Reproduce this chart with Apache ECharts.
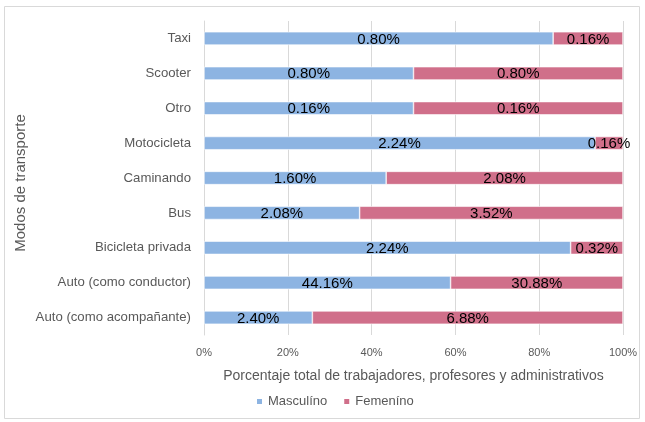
<!DOCTYPE html>
<html>
<head>
<meta charset="utf-8">
<script src="https://cdn.jsdelivr.net/npm/echarts@6/dist/echarts.min.js"></script>
<style>
  html, body { margin: 0; padding: 0; background: #fff; }
  #chart { width: 645px; height: 422px; }
</style>
</head>
<body>
<div id="chart"></div>
<script>
// Transport modes, bottom to top on the category axis
const categories = [
  'Auto (como acompañante)',
  'Auto (como conductor)',
  'Bicicleta privada',
  'Bus',
  'Caminando',
  'Motocicleta',
  'Otro',
  'Scooter',
  'Taxi'
];
// Percent of all staff, by gender
const masculino = [2.40, 44.16, 2.24, 2.08, 1.60, 2.24, 0.16, 0.80, 0.80];
const femenino  = [6.88, 30.88, 0.32, 3.52, 2.08, 0.16, 0.16, 0.80, 0.16];
const xTicks = ['0%', '20%', '40%', '60%', '80%', '100%'];

// Each bar is scaled to 100% of its mode's total
const share = (a, b) => a.map((v, i) => ({ value: v / (v + b[i]) * 100, raw: v }));
const mascShare = share(masculino, femenino);
const femShare = share(femenino, masculino);

const FONT = '"Liberation Sans", "DejaVu Sans", sans-serif';
const chart = echarts.init(document.getElementById('chart'));

const labelCfg = {
  show: true,
  position: 'inside',
  color: '#000',
  fontSize: 15,
  fontFamily: FONT,
  offset: [0, 1],
  formatter: p => p.data.raw.toFixed(2) + '%'
};

chart.setOption({
  animation: false,
  graphic: [{
    type: 'rect',
    shape: { x: 4.5, y: 6.5, width: 635, height: 412 },
    style: { fill: 'none', stroke: '#d9d9d9', lineWidth: 1 },
    silent: true
  }],
  grid: { left: 204, right: 22, top: 21, bottom: 87, containLabel: false },
  legend: {
    bottom: 9,
    left: 250,
    itemWidth: 7,
    itemHeight: 7,
    itemGap: 15,
    icon: 'rect',
    textStyle: { color: '#595959', fontSize: 13, fontFamily: FONT },
    data: ['Masculíno', 'Femeníno']
  },
  xAxis: {
    type: 'value',
    min: 0,
    max: 100,
    interval: 20,
    name: 'Porcentaje total de trabajadores, profesores y administrativos',
    nameLocation: 'middle',
    nameGap: 34,
    nameMoveOverlap: false,
    nameTextStyle: { color: '#595959', fontSize: 14, fontFamily: FONT },
    axisLine: { show: false },
    axisTick: { show: false },
    axisLabel: {
      color: '#595959', fontSize: 11, fontFamily: FONT, margin: 12,
      formatter: v => xTicks[Math.round(v / 20)]
    },
    splitLine: { show: true, lineStyle: { color: '#d9d9d9', width: 1 } }
  },
  yAxis: {
    type: 'category',
    data: categories,
    name: 'Modos de transporte',
    nameLocation: 'middle',
    nameGap: 176,
    nameMoveOverlap: false,
    nameRotate: 90,
    nameTextStyle: { color: '#595959', fontSize: 15, fontFamily: FONT, padding: [0, 10, 0, 0] },
    axisLine: { show: true, lineStyle: { color: '#d9d9d9' } },
    axisTick: { show: false },
    axisLabel: { color: '#595959', fontSize: 13.2, fontFamily: FONT, margin: 13 }
  },
  series: [
    {
      name: 'Masculíno',
      type: 'bar',
      stack: 'total',
      barWidth: '38%',
      data: mascShare,
      itemStyle: { color: '#8db4e2', borderColor: '#fff', borderWidth: 0.6 },
      label: labelCfg
    },
    {
      name: 'Femeníno',
      type: 'bar',
      stack: 'total',
      barWidth: '38%',
      data: femShare,
      itemStyle: { color: '#d06f8a', borderColor: '#fff', borderWidth: 0.6 },
      label: labelCfg
    }
  ]
});
</script>
</body>
</html>
